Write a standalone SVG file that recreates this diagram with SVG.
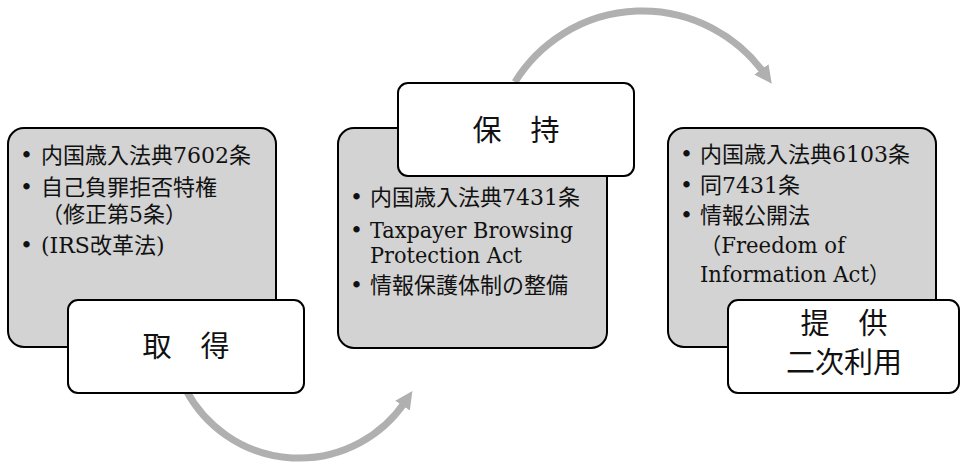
<svg xmlns="http://www.w3.org/2000/svg" width="962" height="464" viewBox="0 0 962 464">
<style>
.panel{fill:#d3d3d3;stroke:#000;stroke-width:2}
.label{fill:#fff;stroke:#000;stroke-width:2}
.t{font-family:"DejaVu Serif","Noto Sans CJK JP",serif;font-size:22px;fill:#111}
.big{font-family:"DejaVu Serif","Noto Sans CJK JP",serif;font-size:29px;fill:#111;text-anchor:middle}
.arc{fill:none;stroke:#b0b0b0;stroke-width:7}
</style>
<defs>
<marker id="ah" markerUnits="userSpaceOnUse" markerWidth="22" markerHeight="22" viewBox="0 0 20 20" refX="4" refY="10" orient="auto">
<path d="M0,2 L16,10 L0,18 z" fill="#b0b0b0"/>
</marker>
</defs>
<g id="connectors">
<path class="arc" d="M186 390 A128 128 0 0 0 405 402" marker-end="url(#ah)"/>
<path class="arc" d="M515 82 A150 150 0 0 1 764 73" marker-end="url(#ah)"/>
</g>
<g id="node-acquire">
<rect class="panel" x="8" y="128" width="268" height="219" rx="16"/>
<text class="t" x="20" y="163">•</text><text class="t" x="41" y="163">内国歳入法典7602条</text>
<text class="t" x="20" y="195">•</text><text class="t" x="41" y="195">自己負罪拒否特権</text>
<text class="t" x="41" y="222">（修正第5条）</text>
<text class="t" x="20" y="253">•</text><text class="t" x="41" y="253">(IRS改革法)</text>
<rect class="label" x="68" y="300" width="236" height="93" rx="10"/>
<text class="big" x="186" y="357">取　得</text>
</g>
<g id="node-retain">
<rect class="panel" x="338" y="128" width="269" height="220" rx="16"/>
<text class="t" x="350" y="205">•</text><text class="t" x="370" y="205">内国歳入法典7431条</text>
<text class="t" x="350" y="238">•</text><text class="t" x="370" y="238" textLength="203" lengthAdjust="spacingAndGlyphs">Taxpayer Browsing</text>
<text class="t" x="370" y="263" textLength="152" lengthAdjust="spacingAndGlyphs">Protection Act</text>
<text class="t" x="350" y="293">•</text><text class="t" x="370" y="293">情報保護体制の整備</text>
<rect class="label" x="398" y="83" width="236" height="93" rx="10"/>
<text class="big" x="516" y="141">保　持</text>
</g>
<g id="node-provide">
<rect class="panel" x="668" y="128" width="268" height="219" rx="16"/>
<text class="t" x="680" y="162">•</text><text class="t" x="700" y="162">内国歳入法典6103条</text>
<text class="t" x="680" y="193">•</text><text class="t" x="700" y="193">同7431条</text>
<text class="t" x="680" y="223">•</text><text class="t" x="700" y="223">情報公開法</text>
<text class="t" x="700" y="253" textLength="145" lengthAdjust="spacingAndGlyphs">（Freedom of</text>
<text class="t" x="700" y="282" textLength="190" lengthAdjust="spacingAndGlyphs">Information Act）</text>
<rect class="label" x="728" y="300" width="231" height="93" rx="10"/>
<text class="big" x="844" y="334">提　供</text>
<text class="big" x="844" y="373">二次利用</text>
</g>
</svg>
